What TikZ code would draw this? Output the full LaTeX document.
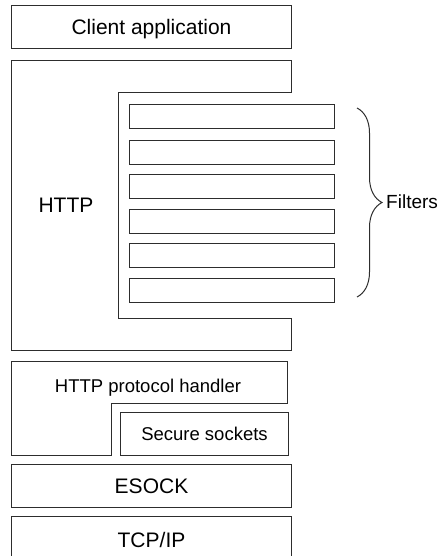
\documentclass[tikz,border=0pt]{standalone}
\usepackage{fontspec}
\setmainfont{Liberation Sans}
\usetikzlibrary{positioning, decorations.pathreplacing, calc}
\definecolor{layerline}{RGB}{45,45,45}
\tikzset{
  layerbox/.style={draw=layerline, line width=1pt, anchor=north west, inner sep=0pt,
    minimum width=280pt, minimum height=43pt, text height=15pt, text depth=0pt,
    font=\fontsize{21}{25}\selectfont},
  filterbox/.style={draw=layerline, line width=1pt, anchor=north west, inner sep=0pt,
    minimum width=205pt, minimum height=24pt},
  layerline/.style={draw=layerline, line width=1pt},
}

\begin{document}
\begin{tikzpicture}[x=1pt, y=-1pt]
    \useasboundingbox (0,0) rectangle (439,556);
    \clip (0,0) rectangle (439,556);

    % top of the stack
    \node[layerbox] (client) at (11,5) {Client application};

    % HTTP layer with the filters set into it
    \draw[layerline] (11,61) -- (291,61) -- (291,93) -- (118,93) -- (118,318)
        -- (291,318) -- (291,350) -- (11,350) -- cycle;
    \node[anchor=base, font=\fontsize{21}{25}\selectfont] (http) at (66,212) {HTTP};
    \foreach \y [count=\i] in {104,140,174,209,243,278}
        \node[filterbox] (filter\i) at (129,\y) {};

    \coordinate (bracetop) at (357,108);
    \coordinate (bracebot) at (357,297);
    \draw[layerline, decorate, decoration={brace, amplitude=25pt}] (bracetop) -- (bracebot);
    \node[anchor=base west, inner sep=0pt, font=\fontsize{19}{23}\selectfont] (filters) at (386,208) {Filters};

    % protocol handler and secure sockets
    \draw[layerline] (11,361) -- (287,361) -- (287,403) -- (111,403) -- (111,455)
        -- (11,455) -- cycle;
    \node[anchor=base, font=\fontsize{18.5}{22}\selectfont] (handler) at (148,392) {HTTP protocol handler};
    \node[layerbox, minimum width=168pt, text height=13.2pt,
          font=\fontsize{18.5}{22}\selectfont] (secure) at (120,412) {Secure sockets};

    % bottom layers
    \node[layerbox] (esock) at (11,464) {ESOCK};
    \node[layerbox, minimum height=47pt] (tcpip) at (11,516) {TCP/IP};
\end{tikzpicture}
\end{document}
